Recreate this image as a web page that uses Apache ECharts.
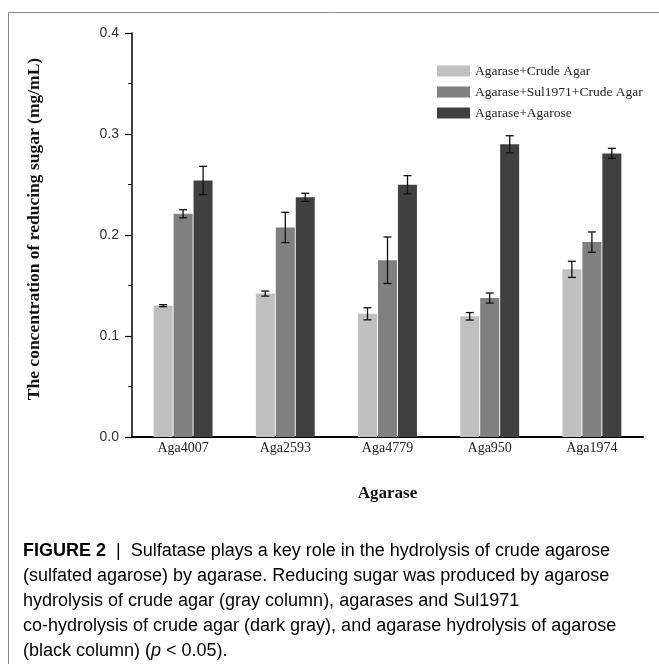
<!DOCTYPE html>
<html>
<head>
<meta charset="utf-8">
<script src="https://cdn.jsdelivr.net/npm/echarts@6/dist/echarts.min.js"></script>
<style>
html,body{margin:0;padding:0;background:#fff;}
#c{width:659px;height:664px;}
</style>
</head>
<body>
<div id="c"></div>
<script>
var categories = ['Aga4007', 'Aga2593', 'Aga4779', 'Aga950', 'Aga1974'];
var seriesNames = ['Agarase+Crude Agar', 'Agarase+Sul1971+Crude Agar', 'Agarase+Agarose'];
var crudeAgar = [0.130, 0.142, 0.122, 0.1195, 0.166];
var crudeAgarErr = [0.001, 0.0025, 0.006, 0.0037, 0.008];
var sulCrudeAgar = [0.221, 0.2075, 0.175, 0.1376, 0.193];
var sulCrudeAgarErr = [0.004, 0.015, 0.023, 0.005, 0.010];
var agarose = [0.254, 0.2373, 0.2498, 0.2898, 0.2808];
var agaroseErr = [0.014, 0.004, 0.009, 0.0085, 0.005];
var yTicks = [0, 0.1, 0.2, 0.3, 0.4];

var captionLines = [
  [{t: 'FIGURE 2', b: true}, {t: '  |  Sulfatase plays a key role in the hydrolysis of crude agarose'}],
  [{t: '(sulfated agarose) by agarase. Reducing sugar was produced by agarose'}],
  [{t: 'hydrolysis of crude agar (gray column), agarases and Sul1971'}],
  [{t: 'co-hydrolysis of crude agar (dark gray), and agarase hydrolysis of agarose'}],
  [{t: '(black column) ('}, {t: 'p', i: true}, {t: ' < 0.05).'}]
];

var colors = ['#c0c0c0', '#808080', '#404040'];
var values = [crudeAgar, sulCrudeAgar, agarose];
var errs = [crudeAgarErr, sulCrudeAgarErr, agaroseErr];
var BAR_W = 19, BAR_STEP = 20;

var chart = echarts.init(document.getElementById('c'));

var series = [];
values.forEach(function (v, k) {
  series.push({
    name: seriesNames[k],
    type: 'bar',
    data: v,
    barWidth: BAR_W,
    barGap: '5%',
    itemStyle: {color: colors[k]},
    z: 2
  });
});
values.forEach(function (v, k) {
  series.push({
    type: 'custom',
    name: 'err' + k,
    data: v.map(function (val, i) { return [i, val, errs[k][i]]; }),
    encode: {x: 0, y: 1},
    z: 5,
    silent: true,
    renderItem: function (params, api) {
      var ci = api.value(0), val = api.value(1), e = api.value(2);
      var top = api.coord([ci, val + e]);
      var bot = api.coord([ci, val - e]);
      var x = top[0] + (k - 1) * BAR_STEP;
      var hw = 4;
      var st = {stroke: '#111', lineWidth: 1.3};
      return {
        type: 'group',
        children: [
          {type: 'line', shape: {x1: x, y1: top[1], x2: x, y2: bot[1]}, style: st},
          {type: 'line', shape: {x1: x - hw, y1: top[1], x2: x + hw, y2: top[1]}, style: st},
          {type: 'line', shape: {x1: x - hw, y1: bot[1], x2: x + hw, y2: bot[1]}, style: st}
        ]
      };
    }
  });
});

var CAP_FONT = 'Liberation Sans, Arial, sans-serif';
var graphics = [
  {type: 'line', shape: {x1: 8.5, y1: 12.5, x2: 659, y2: 12.5}, style: {stroke: '#8a8a8a', lineWidth: 1}},
  {type: 'line', shape: {x1: 8.5, y1: 12.5, x2: 8.5, y2: 664}, style: {stroke: '#8a8a8a', lineWidth: 1}}
];
captionLines.forEach(function (line, li) {
  var rich = {
    n: {fontFamily: CAP_FONT, fontSize: 18, color: '#3a3a3a'},
    b: {fontFamily: CAP_FONT, fontSize: 18, color: '#2a2a2a', fontWeight: 'bold'},
    i: {fontFamily: CAP_FONT, fontSize: 18, color: '#3a3a3a', fontStyle: 'italic'}
  };
  var txt = line.map(function (s) {
    var key = s.b ? 'b' : (s.i ? 'i' : 'n');
    return '{' + key + '|' + s.t + '}';
  }).join('');
  graphics.push({
    type: 'text', left: 23, top: 552 + li * 25 - 10,
    style: {text: txt, rich: rich, fontSize: 18, fontFamily: CAP_FONT}
  });
});

chart.setOption({
  animation: false,
  backgroundColor: '#fff',
  grid: {left: 132, right: 16, top: 33, bottom: 227, containLabel: false},
  legend: {
    orient: 'vertical',
    left: 437, top: 64,
    padding: 0,
    itemWidth: 33, itemHeight: 11,
    itemGap: 7,
    icon: 'rect',
    data: seriesNames,
    textStyle: {fontFamily: 'Liberation Serif, Times New Roman, serif', fontSize: 13.5, color: '#222'}
  },
  xAxis: {
    type: 'category',
    data: categories,
    axisLine: {lineStyle: {color: '#000', width: 2}},
    axisTick: {show: false},
    axisLabel: {fontFamily: 'Liberation Serif, Times New Roman, serif', fontSize: 14, color: '#222', margin: 4},
    name: 'Agarase',
    nameLocation: 'middle',
    nameGap: 48,
    nameTextStyle: {fontFamily: 'Liberation Serif, Times New Roman, serif', fontSize: 17, fontWeight: 'bold', color: '#111'}
  },
  yAxis: {
    type: 'value',
    min: yTicks[0], max: yTicks[yTicks.length - 1], interval: 0.1,
    axisLine: {show: true, lineStyle: {color: '#000', width: 1.5}},
    axisTick: {show: true, inside: false, length: 7, lineStyle: {color: '#000', width: 1.2}},
    minorTick: {show: true, splitNumber: 2, length: 4, lineStyle: {color: '#000', width: 1}},
    splitLine: {show: false},
    axisLabel: {fontFamily: 'Liberation Sans, Arial, sans-serif', fontSize: 14, color: '#333', margin: 13,
      formatter: function (v) { return v.toFixed(1); }},
    name: 'The concentration of reducing sugar (mg/mL)',
    nameLocation: 'middle',
    nameGap: 89,
    nameTextStyle: {fontFamily: 'Liberation Serif, Times New Roman, serif', fontSize: 17.5, fontWeight: 'bold', color: '#111', padding: [0, 0, 0, 12]}
  },
  series: series,
  graphic: graphics
});
</script>
</body>
</html>
